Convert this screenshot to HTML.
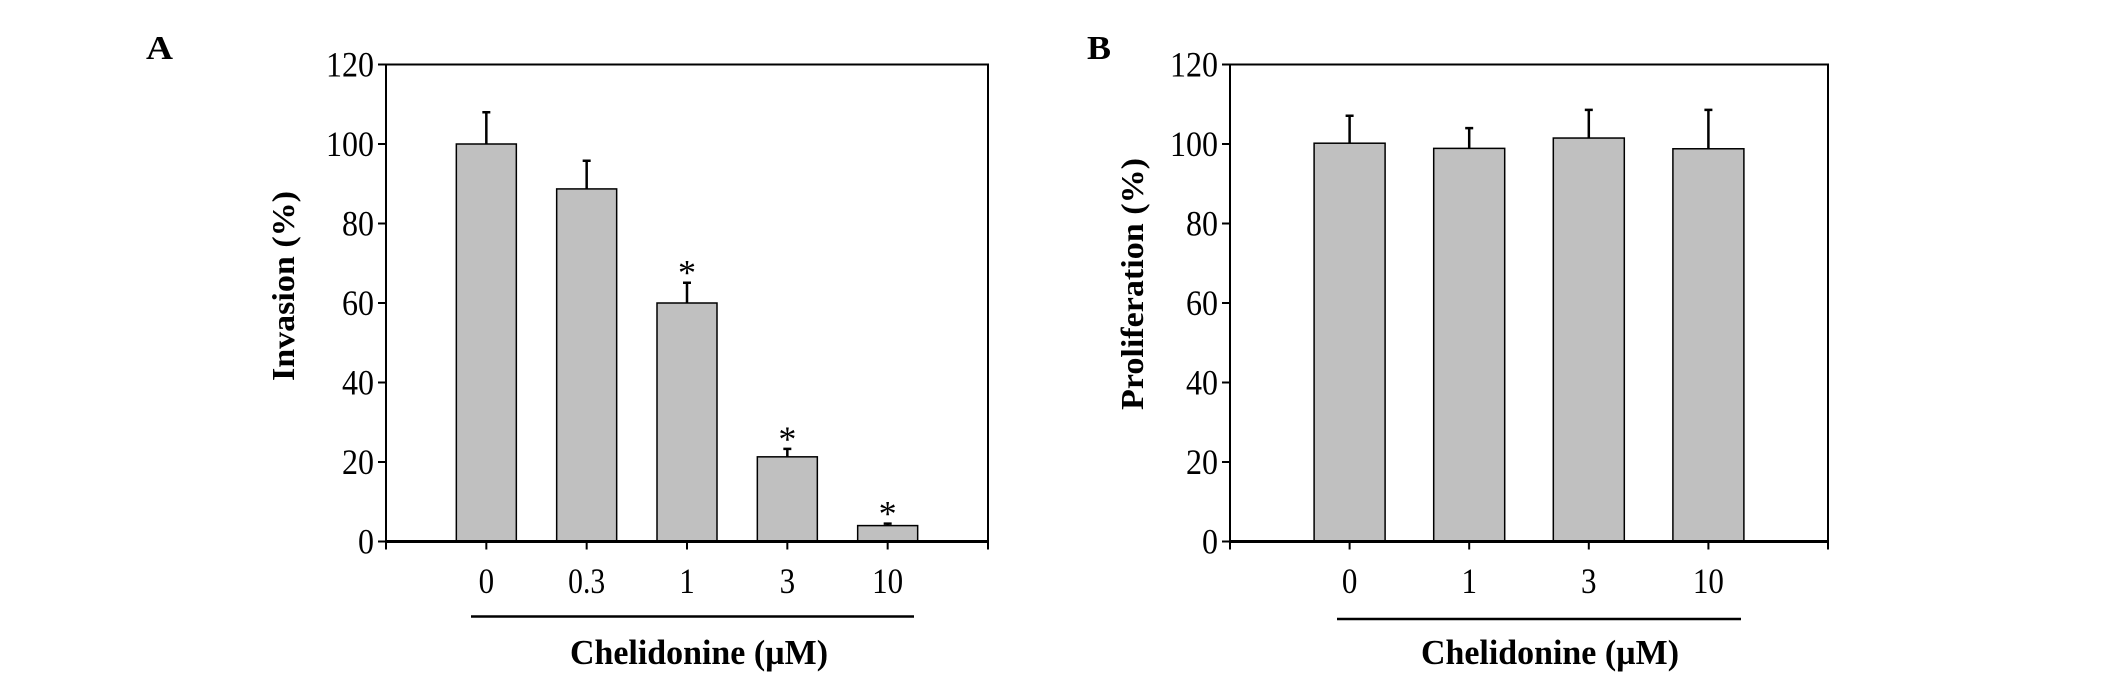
<!DOCTYPE html>
<html><head><meta charset="utf-8"><style>
html,body{margin:0;padding:0;background:#fff;}
svg{display:block;font-family:"Liberation Serif",serif;}
</style></head><body>
<svg id="fig" width="2126" height="695" viewBox="0 0 2126 695"></svg>
<script>
// Panel A data
const catsA = ["0","0.3","1","3","10"];
const valsA = [100, 88.7, 60, 21.3, 4.0];
const errsA = [108, 95.8, 65.1, 23.3, 4.5];
const sigA = [false, false, true, true, true];
// Panel B data
const catsB = ["0","1","3","10"];
const valsB = [100.2, 98.9, 101.5, 98.8];
const errsB = [107.1, 104, 108.6, 108.6];
const sigB = [false, false, false, false];
const yTicks = [0, 20, 40, 60, 80, 100, 120];

const NS = "http://www.w3.org/2000/svg";
const svg = document.getElementById("fig");
function mk(tag, attrs, parent, text) {
  const e = document.createElementNS(NS, tag);
  for (const k in attrs) e.setAttribute(k, attrs[k]);
  if (text !== undefined) e.textContent = text;
  (parent || svg).appendChild(e);
  return e;
}
function labW(s, w) {
  let t = 0;
  for (const c of s) t += (c === ".") ? 6 : w;
  return t;
}

function panel(p) {
  const g = mk("g", {});
  
  
  const top = 64.5, bot = 541.5, ymax = 120;
  const y = v => bot - (v / ymax) * (bot - top);
  const n = p.cats.length;
  const step = (p.right - p.left) / (n + 1);
  const x = i => p.left + step * (i + 1);

  p.vals.forEach((v, i) => {
    const r = mk("rect", {x: x(i) - p.bw / 2, y: y(v), width: p.bw, height: bot - y(v), fill: "#c0c0c0", stroke: "#000", "stroke-width": 1.5}, g);
    
    
    const eb = mk("path", {d: `M${x(i)},${y(v)}V${y(p.errs[i])}M${x(i) - 4},${y(p.errs[i])}H${x(i) + 4}`, stroke: "#000", "stroke-width": 2.5, fill: "none"}, g);
    
    
    if (p.sig[i]) {
      const s = mk("text", {x: x(i), y: y(p.errs[i]) + 2, "text-anchor": "middle", "font-size": 36}, g, "*");
      
      
    }
    const lab = p.cats[i];
    const t = mk("text", {x: x(i), y: 593, "text-anchor": "middle", "font-size": 36, textLength: labW(lab, 15.5), lengthAdjust: "spacingAndGlyphs"}, g, lab);
    
    
    const tk = mk("line", {x1: x(i), x2: x(i), y1: bot, y2: bot + 8, stroke: "#000", "stroke-width": 2}, g);
    
    
  });
  const fr = mk("path", {d: `M${p.left},${top}H${p.right}V${bot + 8}M${p.left},${top}V${bot + 8}`, stroke: "#000", "stroke-width": 2, fill: "none"}, g);
  
  
  const xa = mk("line", {x1: p.left, x2: p.right, y1: bot, y2: bot, stroke: "#000", "stroke-width": 3}, g);
  
  
  yTicks.forEach(v => {
    const tk = mk("line", {x1: p.left - 8, x2: p.left, y1: y(v), y2: y(v), stroke: "#000", "stroke-width": 2}, g);
    
    
    const lab = String(v);
    const t = mk("text", {x: p.left - 12, y: y(v) + 12, "text-anchor": "end", "font-size": 36, textLength: labW(lab, 16), lengthAdjust: "spacingAndGlyphs"}, g, lab);
    
    
  });
  const bl = mk("line", {x1: p.lineX1, x2: p.lineX2, y1: p.lineY, y2: p.lineY, stroke: "#000", "stroke-width": 2.5}, g);
  
  
  const xt = mk("text", {x: p.titleX, y: 664, "text-anchor": "middle", "font-size": 35, "font-weight": "bold", textLength: 258, lengthAdjust: "spacingAndGlyphs"}, g, "Chelidonine (µM)");
  
  
  const yt = mk("text", {x: 0, y: 0, "text-anchor": "middle", "font-size": 32, "font-weight": "bold", textLength: p.ylabLen, lengthAdjust: "spacingAndGlyphs", transform: `translate(${p.ylabX},${p.ylabY}) rotate(-90)`}, g, p.ylab);
  
  
  const pl = mk("text", {x: p.labX, y: 59, "font-size": 34, "font-weight": "bold", textLength: p.labW, lengthAdjust: "spacingAndGlyphs"}, g, p.id);
  
  
}

panel({id: "A", left: 386, right: 988, bw: 60, cats: catsA, vals: valsA, errs: errsA, sig: sigA,
  lineX1: 471, lineX2: 914, lineY: 616.5, titleX: 699, ylab: "Invasion (%)", ylabX: 294, ylabY: 286, ylabLen: 190, labX: 146, labW: 27});
panel({id: "B", left: 1230, right: 1828, bw: 71, cats: catsB, vals: valsB, errs: errsB, sig: sigB,
  lineX1: 1337, lineX2: 1741, lineY: 619, titleX: 1550, ylab: "Proliferation (%)", ylabX: 1143, ylabY: 284, ylabLen: 252, labX: 1087, labW: 24});
</script>
</body></html>
